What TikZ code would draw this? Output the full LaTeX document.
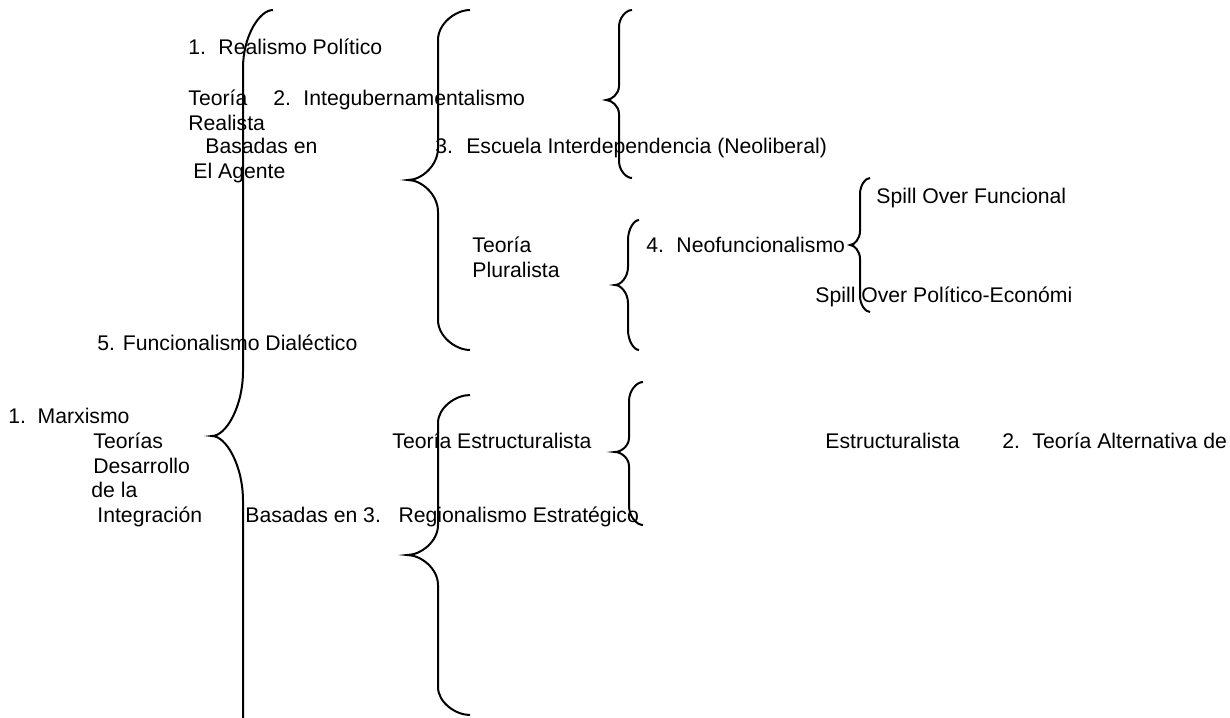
\documentclass[tikz,border=0pt]{standalone}
\usepackage{fontspec}
\setmainfont{Liberation Sans}
\usepackage{tikz}
\tikzstyle{txt} = [anchor=base west, inner sep=0pt, font=\fontsize{10.6}{12}\selectfont]
\tikzstyle{curly} = [draw, line width=1pt]

% end x, line x, tip x, top y, tip y, bottom y, end curl, tip curl
\newcommand{\llave}[8]{%
  \draw[curly] (#1,#4) .. controls ({#2+0.55*(#1-#2)},#4) and (#2,{#4+0.45*#7}) .. (#2,#4+#7)
    -- (#2,#5-#8) .. controls (#2,{#5-0.45*#8}) and ({#3+0.45*(#2-#3)},#5) .. (#3,#5)
    .. controls ({#3+0.45*(#2-#3)},#5) and (#2,{#5+0.45*#8}) .. (#2,#5+#8)
    -- (#2,#6-#7) .. controls (#2,{#6-0.45*#7}) and ({#2+0.55*(#1-#2)},#6) .. (#1,#6);}

\begin{document}
\begin{tikzpicture}[x=0.5pt,y=-0.5pt]
      \useasboundingbox (0,0) rectangle (1230,717);
      \clip (0,0) rectangle (1230,717);

      % braces
      \llave{273}{243}{212}{10}{436}{862}{58}{65}
      \llave{470}{438}{408}{10}{180}{350}{30}{32}
      \llave{632}{619}{606}{10}{100}{178}{17}{14}
      \llave{639}{628}{615}{220}{285}{350}{20}{18}
      \llave{870}{860}{850}{178}{245}{312}{16}{14}
      \llave{470}{438}{407}{395}{555}{715}{28}{30}
      \llave{643}{629}{615}{382}{452}{525}{19}{14}

      % agent based theories
      \node[txt] (realismo) at (188,55) {1.\hspace{6.2pt}Realismo Político};
      \node[txt] (teoriaR) at (188,105) {Teoría};
      \node[txt] (intergub) at (273,105) {2.\hspace{6.2pt}Integubernamentalismo};
      \node[txt] (realista) at (188,130) {Realista};
      \node[txt] (basadasA) at (205,154) {Basadas en};
      \node[txt] (agente) at (193,178) {El Agente};
      \node[txt] (escuela) at (435,153) {3.\hspace{6.6pt}Escuela Interdependencia (Neoliberal)};

      % pluralist theory
      \node[txt] (teoriaP) at (472,252) {Teoría};
      \node[txt] (pluralista) at (472,277) {Pluralista};
      \node[txt] (neofun) at (646,252) {4.\hspace{6.2pt}Neofuncionalismo};
      \node[txt] (spillF) at (876,203) {Spill Over Funcional};
      \node[txt] (spillP) at (815,302) {Spill Over Político-Económi};
      \node[txt] (dialectico) at (97,350) {5. Funcionalismo Dialéctico};

      % development theories
      \node[txt] (marxismo) at (8,423) {1.\hspace{5.8pt}Marxismo};
      \node[txt] (teorias) at (93,448) {Teorías};
      \node[txt] (desarrollo) at (93,473) {Desarrollo};
      \node[txt] (dela) at (91,497) {de la};
      \node[txt] (integracion) at (97,522) {Integración};
      \node[txt] (teoriaE) at (392,448) {Teoría Estructuralista};
      \node[txt] (basadasE) at (245,522) {Basadas en 3.\hspace{8.8pt}Regionalismo Estratégico};
      \node[txt] (estruct) at (825,448) {Estructuralista};
      \node[txt] (alternativa) at (1002,448) {2.\hspace{6.2pt}Teoría Alternativa de};
\end{tikzpicture}
\end{document}
